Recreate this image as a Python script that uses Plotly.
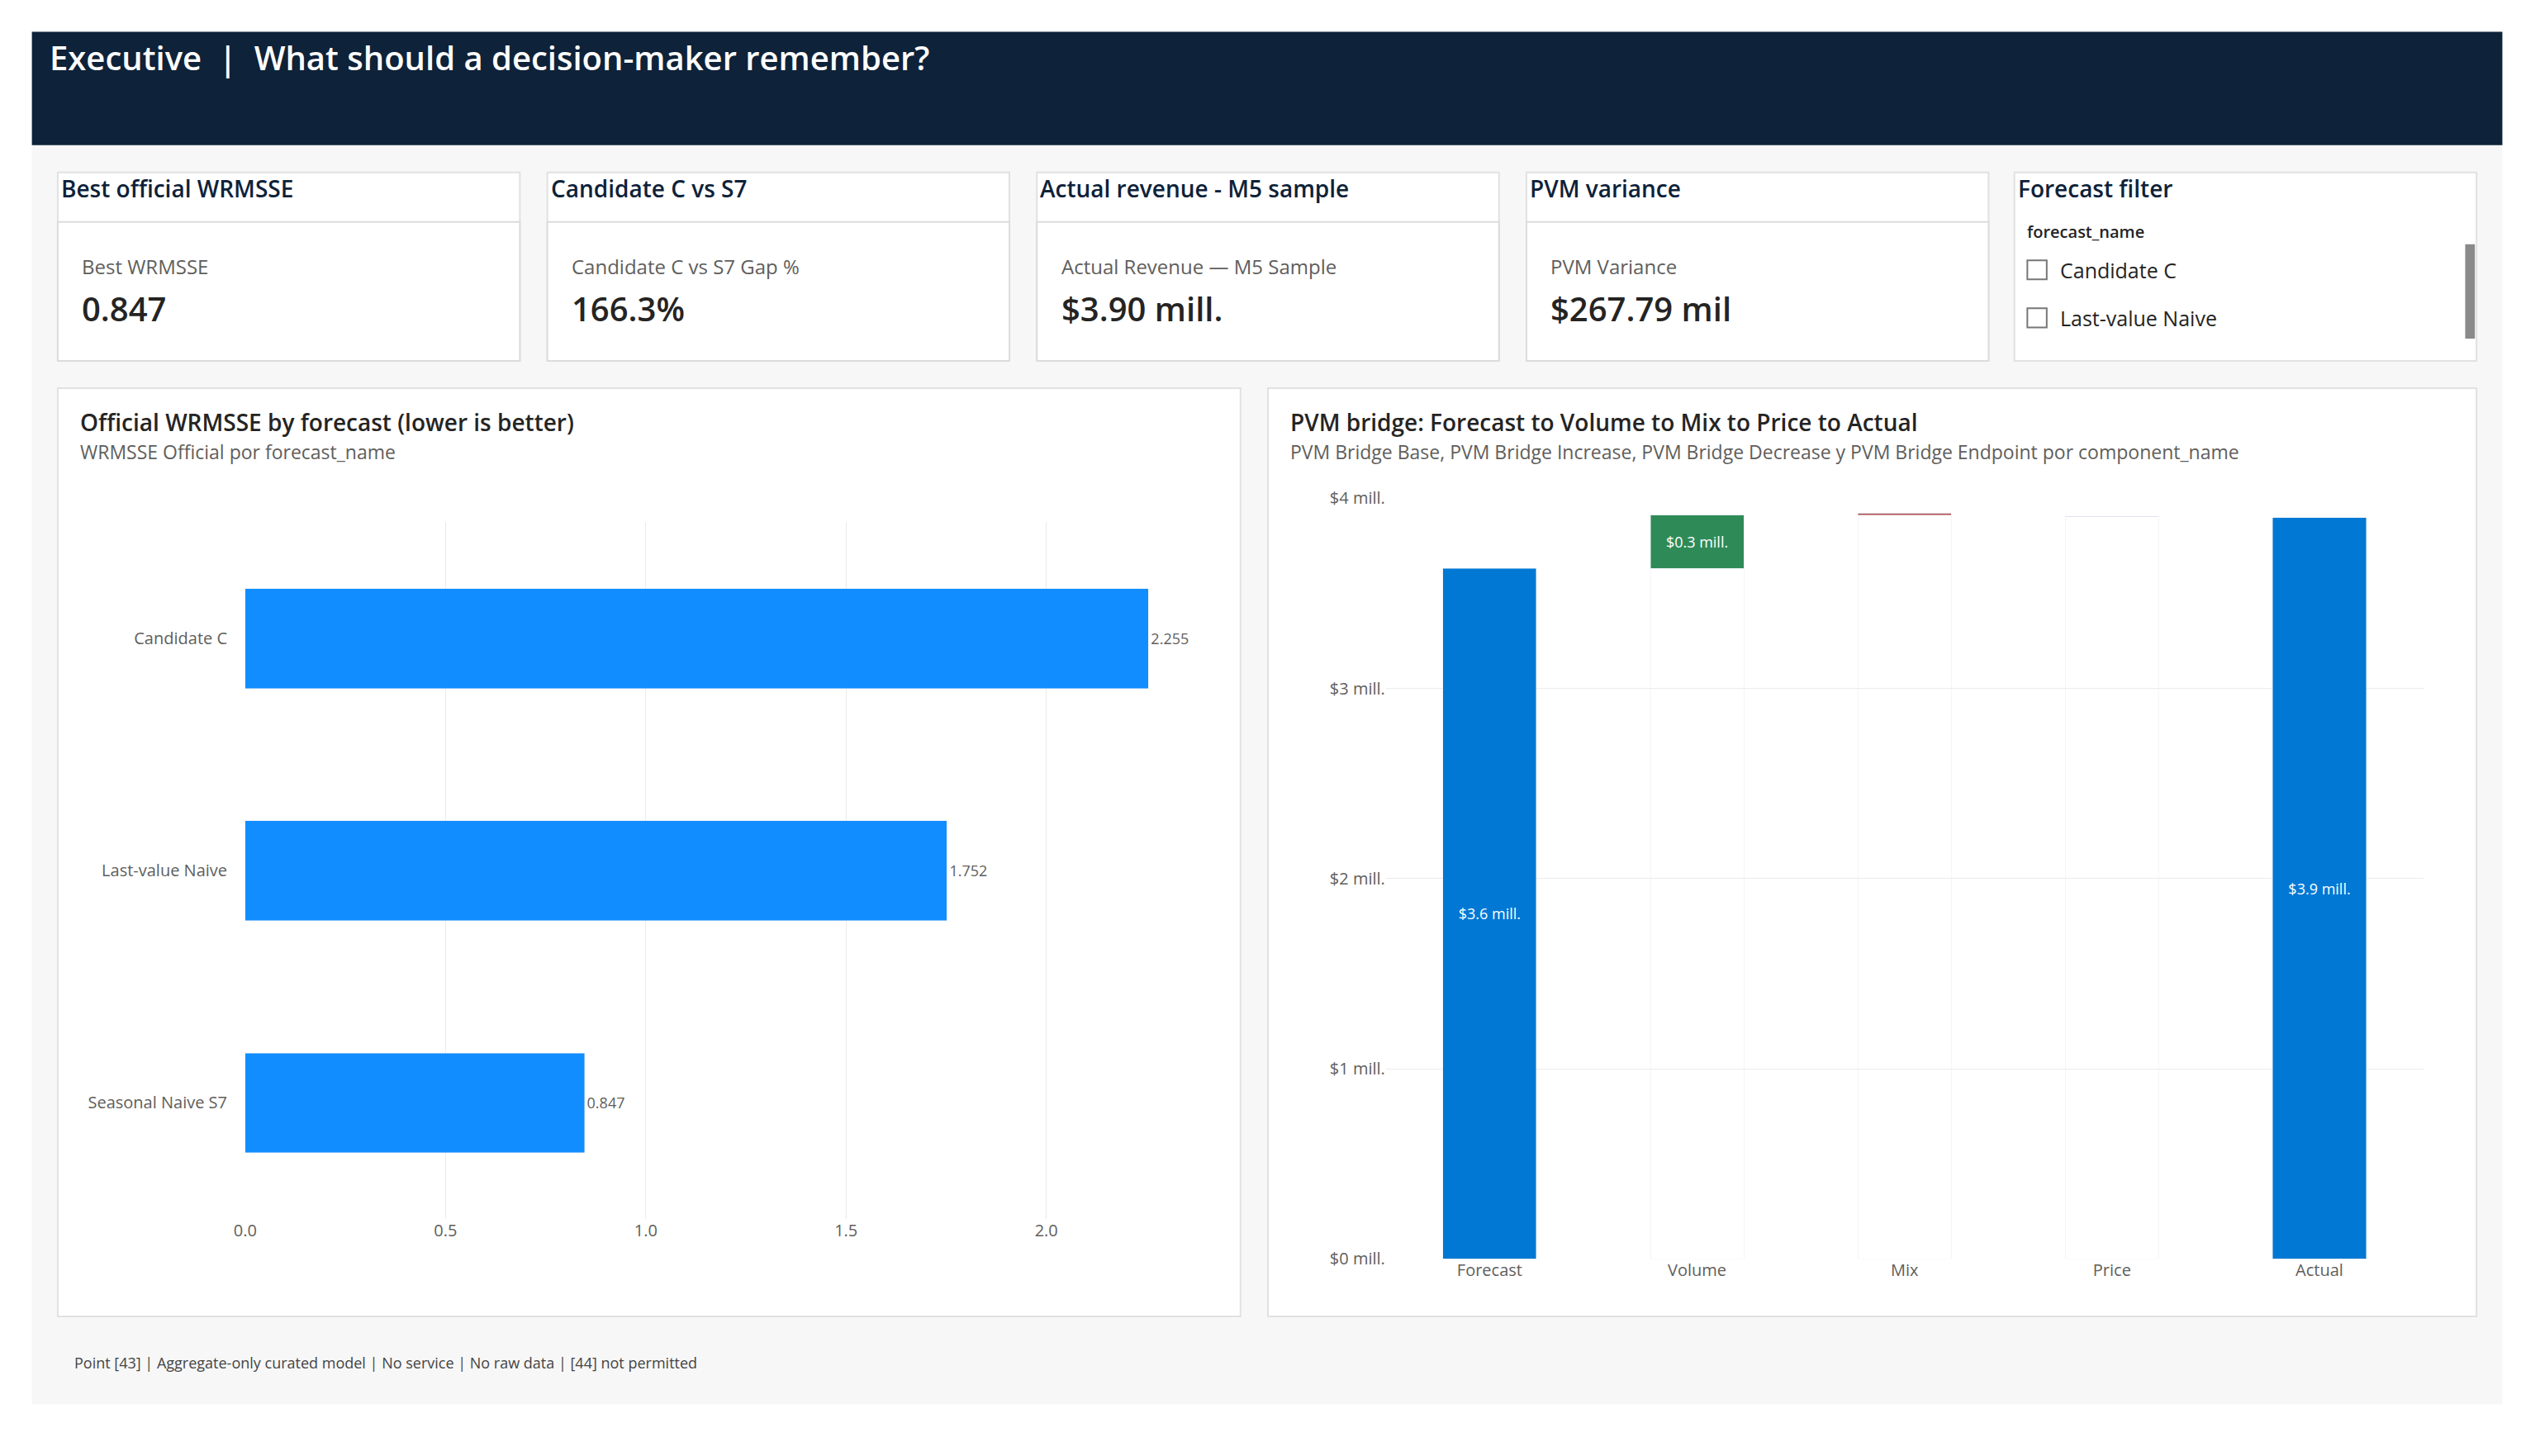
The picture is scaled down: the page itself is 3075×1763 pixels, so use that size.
import plotly.graph_objects as go

W, H = 3075, 1763
S = 1.965
OFF = 10.5

forecasts = ["Candidate C", "Last-value Naive", "Seasonal Naive S7"]
wrmsse = [2.255, 1.752, 0.847]
wrmsse_labels = ["2.255", "1.752", "0.847"]

components = ["Forecast", "Volume", "Mix", "Price", "Actual"]
pvm_base = [0, 3.632, 3.912, 3.902, 0]
pvm_increase = [0, 0.280, 0, 0, 0]
pvm_decrease = [0, 0, 0.010, 0.004, 0]
pvm_endpoint = [3.632, 0, 0, 0, 3.898]
inc_labels = ["", "$0.3 mill.", "", "", ""]
end_labels = ["$3.6 mill.", "", "", "", "$3.9 mill."]

kpi_titles = ["Best official WRMSSE", "Candidate C vs S7", "Actual revenue - M5 sample", "PVM variance"]
kpi_labels = ["Best WRMSSE", "Candidate C vs S7 Gap %", "Actual Revenue \u2014 M5 Sample", "PVM Variance"]
kpi_values = ["0.847", "166.3%", "$3.90 mill.", "$267.79 mil"]
filter_items = ["Candidate C", "Last-value Naive", "Seasonal Naive S7"]

FONT = "Open Sans"

def X(x): return (x - OFF) * S / W
def Y(y): return 1 - (y - OFF) * S / H

fig = go.Figure()
shapes, ann = [], []

def rect(x0, y0, x1, y1, fill, line=None, lw=0):
    shapes.append(dict(type="rect", xref="paper", yref="paper", x0=X(x0), x1=X(x1), y0=Y(y1), y1=Y(y0),
                       fillcolor=fill, line=dict(color=line or fill, width=lw), layer="below"))

def text(x, y, s, size, color="#252423", xa="left", ya="middle", weight=None):
    ann.append(dict(xref="paper", yref="paper", x=X(x), y=Y(y), text=s, showarrow=False, xanchor=xa, yanchor=ya,
                    font=dict(size=size, color=color, family=FONT, weight=weight)))

rect(19, 19, 1548, 878, "#f7f7f7")
rect(19, 19, 1548, 90, "#0e2239")
text(29, 35, "Executive  |  What should a decision-maker remember?", 40, "white", weight=600)

cx = [35, 338, 641, 944]
for i, x0 in enumerate(cx):
    rect(x0, 107, x0 + 286, 225, "white", "#e1e1e1", 2)
    rect(x0, 138, x0 + 286, 225, "white", "#dcdcdc", 2)
    text(x0 + 1, 117, kpi_titles[i], 28, "#0e2239", weight=600)
    text(x0 + 14, 166, kpi_labels[i], 24, "#605e5c")
    text(x0 + 14, 192, kpi_values[i], 40, "#252423", weight=600)
rect(1246, 107, 1532, 225, "white", "#e1e1e1", 2)
text(1247, 117, "Forecast filter", 28, "#0e2239", weight=600)
text(1253, 144, "forecast_name", 20, "#252423", weight=600)
for j, item in enumerate(filter_items):
    yy = 168 + 30 * j
    if yy > 222:
        break
    shapes.append(dict(type="rect", xref="paper", yref="paper", x0=X(1254), x1=X(1266), y0=Y(yy + 6), y1=Y(yy - 6),
                       line=dict(color="#777", width=2), fillcolor="white"))
    text(1273, yy, item, 25, "#252423")
rect(1525, 152, 1531, 211, "#8a8a8a")

rect(35, 242, 767, 823, "white", "#e1e1e1", 2)
rect(784, 242, 1532, 823, "white", "#e1e1e1", 2)
text(48, 263, "Official WRMSSE by forecast (lower is better)", 28, "#252423", weight=600)
text(48, 282, "WRMSSE Official por forecast_name", 23, "#605e5c")
text(797, 263, "PVM bridge: Forecast to Volume to Mix to Price to Actual", 28, "#252423", weight=600)
text(797, 282, "PVM Bridge Base, PVM Bridge Increase, PVM Bridge Decrease y PVM Bridge Endpoint por component_name", 23, "#605e5c")
text(44, 852, "Point [43] | Aggregate-only curated model | No service | No raw data | [44] not permitted", 18, "#444")

fig.add_trace(go.Bar(y=forecasts, x=wrmsse, orientation="h", marker_color="#118dff", width=0.43,
                     text=wrmsse_labels, textposition="outside", textfont=dict(size=18, color="#605e5c"),
                     cliponaxis=False, xaxis="x", yaxis="y", showlegend=False))

fig.add_trace(go.Bar(x=components, y=pvm_base, marker_color="rgba(0,0,0,0)", width=0.45, xaxis="x2", yaxis="y2",
                     showlegend=False, hoverinfo="skip"))
fig.add_trace(go.Bar(x=components, y=pvm_increase, marker_color="#2e8b57", width=0.45, xaxis="x2", yaxis="y2",
                     text=inc_labels, textposition="inside", insidetextanchor="middle",
                     textfont=dict(size=18, color="white"), showlegend=False))
fig.add_trace(go.Bar(x=components, y=pvm_decrease, marker_color="#b5524e", width=0.45, xaxis="x2", yaxis="y2",
                     showlegend=False))
fig.add_trace(go.Bar(x=components, y=pvm_endpoint, marker_color="#0078d4", width=0.45, xaxis="x2", yaxis="y2",
                     text=end_labels, textposition="inside", insidetextanchor="middle",
                     textfont=dict(size=18, color="white"), showlegend=False))

tickf = dict(size=20, color="#605e5c", family=FONT)
fig.update_layout(
    width=W, height=H, margin=dict(l=0, r=0, t=0, b=0), paper_bgcolor="white", plot_bgcolor="white",
    barmode="stack", shapes=shapes, annotations=ann, font=dict(family=FONT),
    xaxis=dict(domain=[X(151), X(746)], range=[0, 2.4], tickvals=[0, 0.5, 1, 1.5, 2],
               ticktext=["0.0", "0.5", "1.0", "1.5", "2.0"], showgrid=True, gridcolor="#ebebeb",
               zeroline=False, tickfont=tickf, anchor="y"),
    yaxis=dict(domain=[Y(762), Y(326)], categoryorder="array", categoryarray=forecasts[::-1],
               tickfont=tickf, showgrid=False, anchor="x", ticksuffix="    "),
    xaxis2=dict(domain=[X(857), X(1499)], tickfont=tickf, showgrid=False, anchor="y2"),
    yaxis2=dict(domain=[Y(787), Y(311)], range=[0, 4], tickvals=[0, 1, 2, 3, 4],
                ticktext=["$0 mill.", "$1 mill.", "$2 mill.", "$3 mill.", "$4 mill."],
                showgrid=True, gridcolor="#ebebeb", zeroline=False, tickfont=tickf, anchor="x2"),
)
fig.write_html("out.html")
